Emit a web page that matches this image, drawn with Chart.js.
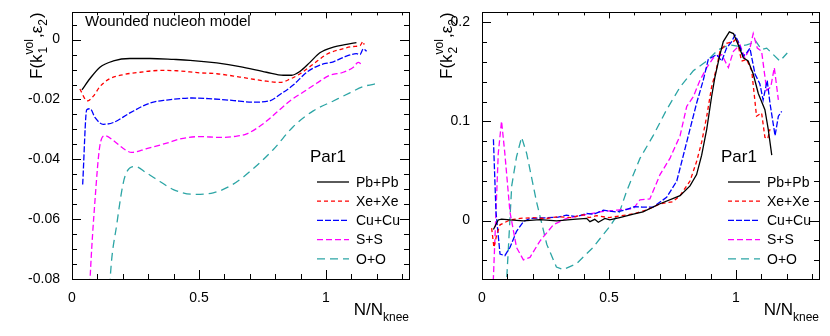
<!DOCTYPE html>
<html>
<head>
<meta charset="utf-8">
<script src="https://cdn.jsdelivr.net/npm/chart.js@4.4.0/dist/chart.umd.min.js"></script>
<style>
  body { margin: 0; background: #fff; width: 830px; height: 336px; overflow: hidden; position: relative; }
  .pane { position: absolute; top: 0; width: 415px; height: 336px; }
</style>
</head>
<body>
<div class="pane" style="left:0"><canvas id="k1Chart" width="415" height="336"></canvas></div>
<div class="pane" style="left:415px"><canvas id="k2Chart" width="415" height="336"></canvas></div>
<script>
// series labels
const systems = ['Pb+Pb', 'Xe+Xe', 'Cu+Cu', 'S+S', 'O+O'];

// tick labels
const xTicks = [0, 0.5, 1];
const k1Ticks = [-0.08, -0.06, -0.04, -0.02, 0];
const k2Ticks = [0, 0.1, 0.2];

// left panel: F(k1vol, eps2) vs N/Nknee
const pbK1X = [0.039,0.071,0.11,0.163,0.228,0.307,0.40,0.465,0.57,0.661,0.766,0.832,0.865,0.898,0.937,0.976,1.029,1.081,1.12];
const pbK1Y = [-0.0168,-0.013,-0.0092,-0.0071,-0.0063,-0.0063,-0.0066,-0.0069,-0.0078,-0.009,-0.0109,-0.0119,-0.0119,-0.0106,-0.0076,-0.0044,-0.0025,-0.0016,-0.001];
const xeK1X = [0.031,0.06,0.084,0.11,0.15,0.202,0.268,0.346,0.412,0.504,0.57,0.661,0.766,0.819,0.858,0.898,0.95,1.003,1.055,1.108,1.134,1.147,1.15];
const xeK1Y = [-0.0165,-0.0205,-0.0189,-0.0157,-0.013,-0.0117,-0.0109,-0.0103,-0.0104,-0.0111,-0.0114,-0.0125,-0.0139,-0.0143,-0.0132,-0.0114,-0.0082,-0.0049,-0.0033,-0.0023,-0.002,-0.0006,-0.0017];
const cuK1X = [0.042,0.058,0.071,0.091,0.123,0.163,0.228,0.307,0.373,0.472,0.551,0.63,0.709,0.776,0.828,0.871,0.924,0.976,1.029,1.081,1.12,1.134,1.147,1.16];
const cuK1Y = [-0.0484,-0.0234,-0.0231,-0.0261,-0.0283,-0.0277,-0.0245,-0.0212,-0.0202,-0.0195,-0.0198,-0.0203,-0.0209,-0.0205,-0.0178,-0.0152,-0.0109,-0.0085,-0.0074,-0.0055,-0.0047,-0.005,-0.0031,-0.0039];
const sK1X = [0.062,0.071,0.091,0.11,0.13,0.163,0.202,0.235,0.294,0.373,0.425,0.504,0.583,0.635,0.688,0.753,0.806,0.858,0.911,0.963,1.016,1.068,1.108,1.127,1.14];
const sK1Y = [-0.1,-0.0803,-0.0532,-0.0353,-0.0321,-0.0337,-0.0364,-0.0377,-0.0364,-0.0346,-0.0332,-0.0324,-0.0327,-0.0324,-0.0315,-0.0281,-0.0243,-0.0205,-0.0175,-0.0146,-0.0119,-0.0109,-0.0092,-0.0076,-0.0082];
const oK1X = [0.14,0.15,0.176,0.209,0.248,0.294,0.346,0.399,0.478,0.556,0.635,0.714,0.793,0.871,0.95,1.029,1.094,1.147,1.206];
const oK1Y = [-0.1,-0.0803,-0.0619,-0.0456,-0.0424,-0.0446,-0.0474,-0.0501,-0.0517,-0.0512,-0.0483,-0.0431,-0.0367,-0.0291,-0.0238,-0.0205,-0.0178,-0.0157,-0.0146];

// right panel: F(k2vol, eps2) vs N/Nknee
const pbK2X = [0.045,0.064,0.077,0.11,0.163,0.228,0.294,0.359,0.412,0.425,0.444,0.458,0.484,0.503,0.542,0.596,0.634,0.701,0.78,0.819,0.845,0.865,0.885,0.904,0.917,0.937,0.95,0.974,0.99,1.009,1.029,1.048,1.068,1.088,1.114,1.127,1.141];
const pbK2Y = [-0.009,0.0007,0.0016,0.0007,-0.0003,0.001,-0.0003,0.0013,0.0023,-0.001,0.0013,-0.0016,0.0023,0.0007,0.003,0.0065,0.0088,0.017,0.0252,0.035,0.0464,0.066,0.0922,0.1248,0.1444,0.1673,0.1804,0.1902,0.1885,0.1771,0.164,0.1608,0.1477,0.1281,0.1118,0.0922,0.066];
const xeK2X = [0.038,0.047,0.058,0.071,0.11,0.15,0.2,0.25,0.3,0.35,0.4,0.42,0.45,0.5,0.55,0.6,0.65,0.701,0.75,0.78,0.819,0.845,0.865,0.885,0.904,0.924,0.937,0.963,0.99,1.003,1.022,1.042,1.062,1.081,1.101,1.114,1.125,1.134];
const xeK2Y = [-0.0075,-0.0271,-0.014,-0.0042,0.0007,0.0023,0.003,0.002,0.004,0.003,0.006,0.003,0.005,0.003,0.005,0.007,0.011,0.017,0.019,0.0252,0.0399,0.0595,0.0791,0.1052,0.1346,0.1542,0.1706,0.1787,0.1804,0.1836,0.1608,0.1624,0.151,0.1052,0.1085,0.084,0.0824,0.0922];
const cuK2X = [0.045,0.055,0.071,0.09,0.11,0.136,0.163,0.189,0.255,0.3,0.333,0.37,0.412,0.44,0.478,0.53,0.56,0.6,0.63,0.674,0.727,0.767,0.793,0.819,0.845,0.871,0.891,0.924,0.944,0.963,0.983,0.996,1.009,1.029,1.042,1.055,1.075,1.094,1.107,1.123,1.134,1.154,1.167,1.18];
const cuK2Y = [0.082,0.0088,-0.0337,-0.0353,-0.0271,-0.0108,-0.001,0.0023,0.0029,0.0035,0.0056,0.004,0.0072,0.0065,0.0105,0.0088,0.0105,0.014,0.0137,0.0137,0.0235,0.0399,0.066,0.0922,0.1183,0.1412,0.1624,0.1673,0.1608,0.1738,0.1804,0.187,0.1804,0.1657,0.169,0.1738,0.1477,0.1379,0.1216,0.1412,0.1183,0.0856,0.1052,0.1101];
const sK2X = [0.043,0.064,0.077,0.09,0.11,0.136,0.163,0.189,0.228,0.281,0.333,0.399,0.464,0.53,0.596,0.622,0.661,0.701,0.74,0.78,0.806,0.832,0.858,0.885,0.911,0.944,0.97,0.99,1.016,1.035,1.055,1.068,1.084,1.101,1.121,1.137,1.151,1.167];
const sK2Y = [-0.07,0.0676,0.1003,0.0676,0.0088,-0.0271,-0.0395,-0.037,-0.0206,-0.0042,0.0023,0.0056,0.0088,0.0105,0.012,0.0209,0.0219,0.0464,0.0627,0.0856,0.115,0.1248,0.1412,0.1542,0.164,0.1673,0.1542,0.1706,0.1771,0.164,0.1738,0.1885,0.1738,0.1706,0.1314,0.1346,0.1542,0.1216];
const oK2X = [0.095,0.117,0.136,0.156,0.176,0.215,0.255,0.293,0.32,0.372,0.437,0.465,0.503,0.542,0.57,0.622,0.674,0.727,0.78,0.832,0.885,0.93,0.944,0.976,1.016,1.042,1.062,1.075,1.101,1.121,1.147,1.173,1.202];
const oK2Y = [-0.07,0.035,0.0644,0.084,0.0676,0.0186,-0.0238,-0.0467,-0.0493,-0.0434,-0.0271,-0.018,-0.006,0.009,0.03,0.0627,0.0856,0.1118,0.1346,0.151,0.1608,0.1722,0.1738,0.1771,0.1755,0.1771,0.1787,0.182,0.1722,0.1738,0.1673,0.1608,0.1689];

const colors = ['#000000', '#ff0000', '#0000ff', '#ff00ff', '#2ca5a5'];
const dashes = [[], [4, 3], [6, 2], [6, 3], [8, 5]];
const FONT = '"Liberation Sans", Arial, sans-serif';

function pts(xs, ys) {
  return xs.map((x, i) => ({ x: x, y: ys[i] }));
}

function makeSets(pairs, smooth) {
  return pairs.map((p, i) => ({
    label: systems[i],
    data: pts(p[0], p[1]),
    borderColor: colors[i],
    borderWidth: 1.3,
    borderDash: dashes[i],
    pointRadius: 0,
    fill: false,
    tension: smooth ? 0.4 : 0,
    cubicInterpolationMode: smooth ? 'monotone' : 'default'
  }));
}

// ROOT-like frame, ticks, titles and legend
const rootStyle = {
  id: 'rootStyle',
  afterDraw(chart, args, o) {
    const ctx = chart.ctx, a = chart.chartArea;
    const xs = chart.scales.x, ys = chart.scales.y;
    ctx.save();
    ctx.strokeStyle = '#000';
    ctx.lineWidth = 1;
    ctx.setLineDash([]);
    ctx.strokeRect(Math.round(a.left) + 0.5, Math.round(a.top) + 0.5, Math.round(a.right - a.left), Math.round(a.bottom - a.top));

    ctx.beginPath();
    const isMajor = (v, m) => Math.abs(Math.round(v / m) * m - v) < 1e-9;
    for (let i = Math.ceil(xs.min / 0.1 - 1e-9); i * 0.1 <= xs.max; i++) {
      const v = i * 0.1, px = Math.round(xs.getPixelForValue(v)) + 0.5;
      const major = isMajor(v, 0.5);
      ctx.moveTo(px, a.bottom); ctx.lineTo(px, a.bottom - (major ? 9 : 5));
      ctx.moveTo(px, a.top); ctx.lineTo(px, a.top + (major ? 6 : 3));
    }
    for (let i = Math.ceil(ys.min / o.yMinor - 1e-9); i * o.yMinor <= ys.max + 1e-12; i++) {
      const v = i * o.yMinor, py = Math.round(ys.getPixelForValue(v)) + 0.5;
      const len = isMajor(v, o.yMajor) ? 9 : 5;
      ctx.moveTo(a.left, py); ctx.lineTo(a.left + len, py);
      ctx.moveTo(a.right, py); ctx.lineTo(a.right - len, py);
    }
    ctx.stroke();

    ctx.fillStyle = '#000';
    ctx.textBaseline = 'alphabetic';
    // y title F(k_n^vol, eps_2)
    ctx.save();
    ctx.translate(a.left - 30, a.top);
    ctx.rotate(-Math.PI / 2);
    const big = '17px ' + FONT, small = '12px ' + FONT;
    ctx.font = big; const w1 = ctx.measureText('F(k').width;
    ctx.font = small; const w2 = Math.max(ctx.measureText('vol').width, ctx.measureText(o.sub).width);
    ctx.font = big; const w3 = ctx.measureText(',\u03b5').width;
    ctx.font = small; const w4 = ctx.measureText('2').width;
    ctx.font = big; const w5 = ctx.measureText(')').width;
    let x = -(w1 + w2 + w3 + w4 + w5 + 2);
    ctx.textAlign = 'left';
    ctx.font = big; ctx.fillText('F(k', x, 0); x += w1;
    ctx.font = small; ctx.fillText(o.sub, x + 1, 5); ctx.fillText('vol', x, -9); x += w2 + 1;
    ctx.font = big; ctx.fillText(',\u03b5', x, 0); x += w3;
    ctx.font = small; ctx.fillText('2', x, 5); x += w4 + 1;
    ctx.font = big; ctx.fillText(')', x, 0);
    ctx.restore();

    // x title N/N_knee
    ctx.textAlign = 'right';
    ctx.font = small;
    const wk = ctx.measureText('knee').width;
    ctx.fillText('knee', a.right, 321);
    ctx.font = big;
    ctx.fillText('N/N', a.right - wk, 315);

    // header text
    ctx.textAlign = 'left';
    if (o.header) {
      ctx.font = '15px ' + FONT;
      ctx.fillText(o.header, a.left + 13, 26);
    }

    // legend
    ctx.textBaseline = 'middle';
    ctx.font = '17px ' + FONT;
    ctx.fillText('Par1', o.legX - 7, 157);
    ctx.font = '14px ' + FONT;
    chart.data.datasets.forEach((d, i) => {
      const y = 182 + i * 19.2;
      ctx.strokeStyle = d.borderColor;
      ctx.lineWidth = 1.3;
      ctx.setLineDash(d.borderDash);
      ctx.beginPath();
      ctx.moveTo(o.legX, y); ctx.lineTo(o.legX + 32, y);
      ctx.stroke();
      ctx.fillText(d.label, o.legX + 39, y + 1);
    });
    ctx.restore();
  }
};

function makeChart(id, sets, yMin, yMax, yTicks, yLeft, padRight, o) {
  return new Chart(document.getElementById(id).getContext('2d'), {
    type: 'line',
    data: { datasets: sets },
    options: {
      responsive: false,
      animation: false,
      layout: { padding: { top: 5, right: padRight, left: 0, bottom: 0 } },
      plugins: { legend: { display: false }, tooltip: { enabled: false }, rootStyle: o },
      scales: {
        x: {
          type: 'linear', min: 0, max: 1.327,
          grid: { display: false }, border: { display: false },
          afterBuildTicks: s => { s.ticks = xTicks.map(v => ({ value: v })); },
          afterFit: s => { s.height = 57; },
          ticks: { color: '#000', font: { size: 14, family: FONT }, padding: 3, autoSkip: false, maxRotation: 0, callback: v => String(+v.toFixed(3)) }
        },
        y: {
          type: 'linear', min: yMin, max: yMax,
          grid: { display: false }, border: { display: false },
          afterBuildTicks: s => { s.ticks = yTicks.map(v => ({ value: v })); },
          afterFit: s => { s.width = yLeft; },
          ticks: { color: '#000', font: { size: 14, family: FONT }, padding: 4, callback: v => String(+v.toFixed(3)) }
        }
      }
    },
    plugins: [rootStyle]
  });
}

makeChart('k1Chart',
  makeSets([[pbK1X, pbK1Y], [xeK1X, xeK1Y], [cuK1X, cuK1Y], [sK1X, sK1Y], [oK1X, oK1Y]], true),
  -0.08, 0.0091, k1Ticks, 72, 6,
  { sub: '1', yMinor: 0.005, yMajor: 0.02, legX: 317, header: 'Wounded nucleon model' });

makeChart('k2Chart',
  makeSets([[pbK2X, pbK2Y], [xeK2X, xeK2Y], [cuK2X, cuK2Y], [sK2X, sK2Y], [oK2X, oK2Y]], false),
  -0.0588, 0.2098, k2Ticks, 67, 11,
  { sub: '2', yMinor: 0.02, yMajor: 0.1, legX: 313 });
</script>
</body>
</html>
